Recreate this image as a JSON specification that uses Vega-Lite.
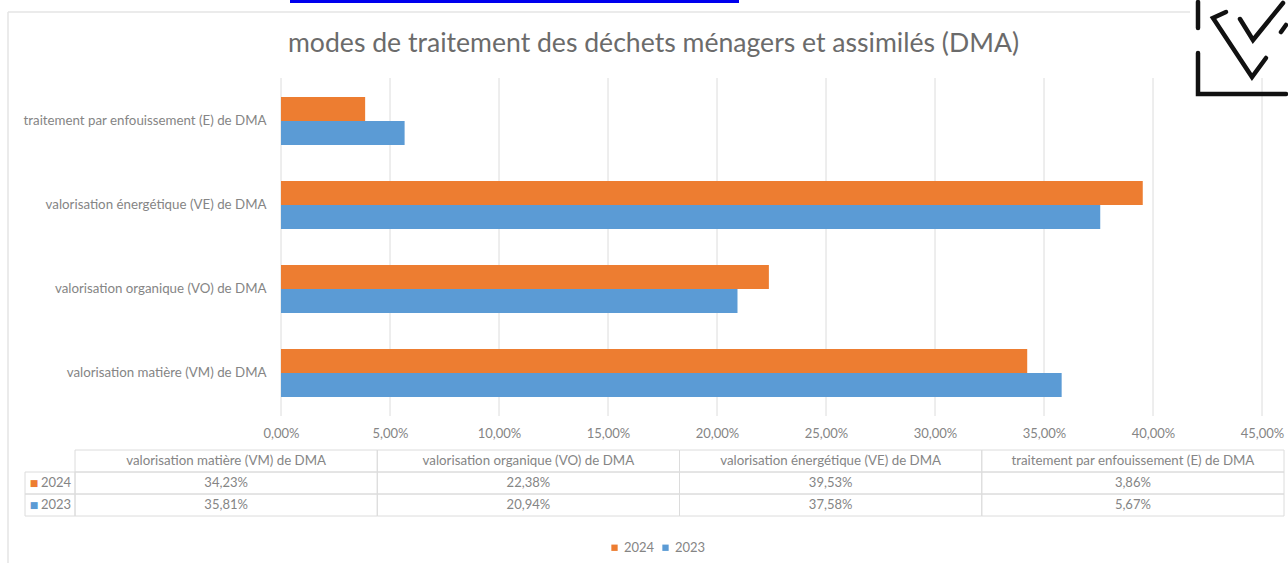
{
"$schema":"https://vega.github.io/schema/vega-lite/v6.json",
"width":1288,"height":563,"padding":{"top":-7,"left":0,"right":0,"bottom":0},
"autosize":{"type":"fit","contains":"padding"},
"background":"#ffffff",
"config":{"view":{"stroke":null},"font":"Lato"},
"title":{"text":"modes de traitement des déchets ménagers et assimilés (DMA)","anchor":"middle","frame":"group","font":"Lato","fontSize":26.6,"fontWeight":"normal","color":"#6b6b6b","dx":13,"offset":0,"dy":65},
"datasets":{
"mesures":[
{"categorie":"valorisation matière (VM) de DMA","annee":"2024","valeur":34.23},
{"categorie":"valorisation organique (VO) de DMA","annee":"2024","valeur":22.38},
{"categorie":"valorisation énergétique (VE) de DMA","annee":"2024","valeur":39.53},
{"categorie":"traitement par enfouissement (E) de DMA","annee":"2024","valeur":3.86},
{"categorie":"valorisation matière (VM) de DMA","annee":"2023","valeur":35.81},
{"categorie":"valorisation organique (VO) de DMA","annee":"2023","valeur":20.94},
{"categorie":"valorisation énergétique (VE) de DMA","annee":"2023","valeur":37.58},
{"categorie":"traitement par enfouissement (E) de DMA","annee":"2023","valeur":5.67}],
"colonnes":[
{"categorie":"valorisation matière (VM) de DMA"},
{"categorie":"valorisation organique (VO) de DMA"},
{"categorie":"valorisation énergétique (VE) de DMA"},
{"categorie":"traitement par enfouissement (E) de DMA"}],
"graduations":[{"t":0},{"t":5},{"t":10},{"t":15},{"t":20},{"t":25},{"t":30},{"t":35},{"t":40},{"t":45}],
"annees":[{"annee":"2024"},{"annee":"2023"}],
"icone":[
{"trait":"a","o":0,"u":3,"v":2},{"trait":"a","o":1,"u":3,"v":28},
{"trait":"b","o":0,"u":3,"v":53},{"trait":"b","o":1,"u":3,"v":94},{"trait":"b","o":2,"u":91,"v":94},
{"trait":"c","o":0,"u":31,"v":12},{"trait":"c","o":1,"u":18,"v":18},{"trait":"c","o":2,"u":57,"v":77},{"trait":"c","o":3,"u":71,"v":58},
{"trait":"d","o":0,"u":45,"v":19},{"trait":"d","o":1,"u":58,"v":40},{"trait":"d","o":2,"u":88,"v":3},
{"trait":"e","o":0,"u":86,"v":32},{"trait":"e","o":1,"u":91,"v":25}]
},
"resolve":{"scale":{"x":"independent","y":"independent","color":"independent"},"axis":{"x":"independent","y":"independent"}},
"layer":[
{"data":{"values":[{"a":0,"b":1}]},"mark":{"type":"rule","color":"#0000ee","strokeWidth":3},
 "encoding":{"x":{"field":"a","type":"quantitative","axis":null,"scale":{"domain":[0,1],"range":[290,739]}},"x2":{"field":"b"},
 "y":{"field":"a","type":"quantitative","axis":null,"scale":{"domain":[0,1],"range":[1.5,2]}}}},
{"data":{"values":[{"a":0,"b":1}]},"mark":{"type":"rule","color":"#e4e4e4","strokeWidth":1.5},
 "encoding":{"x":{"field":"a","type":"quantitative","axis":null,"scale":{"domain":[0,1],"range":[8,1190]}},"x2":{"field":"b"},
 "y":{"field":"a","type":"quantitative","axis":null,"scale":{"domain":[0,1],"range":[12,13]}}}},
{"data":{"values":[{"a":0,"b":1}]},"mark":{"type":"rule","color":"#e4e4e4","strokeWidth":1.5},
 "encoding":{"x":{"field":"a","type":"quantitative","axis":null,"scale":{"domain":[0,1],"range":[8,9]}},
 "y":{"field":"a","type":"quantitative","axis":null,"scale":{"domain":[0,1],"range":[12,563]}},"y2":{"field":"b"}}},
{"data":{"name":"graduations"},"mark":{"type":"rule","color":"#dcdcdc","strokeWidth":1},
 "encoding":{"x":{"field":"t","type":"quantitative","axis":null,"scale":{"domain":[0,45],"range":[281,1262]}},
 "y":{"datum":0,"type":"quantitative","axis":null,"scale":{"domain":[0,1],"range":[78,416]}},"y2":{"datum":1}}},
{"data":{"name":"mesures"},"mark":{"type":"bar"},
 "encoding":{
 "x":{"field":"valeur","type":"quantitative","title":null,"scale":{"domain":[0,45],"nice":false,"range":[281,1262]},
  "axis":{"orient":"bottom","offset":-147,"values":[0,5,10,15,20,25,30,35,40,45],"grid":false,"domain":false,"ticks":false,"labelFlush":false,"labelOverlap":false,"labelPadding":12,"labelFont":"Lato","labelFontSize":13,"labelColor":"#858585","labelExpr":"replace(format(datum.value,'.2f'),'.',',')+'%'"}},
 "y":{"field":"categorie","type":"nominal","title":null,"sort":["traitement par enfouissement (E) de DMA","valorisation énergétique (VE) de DMA","valorisation organique (VO) de DMA","valorisation matière (VM) de DMA"],
  "scale":{"range":[79,415],"paddingInner":0.4286,"paddingOuter":0.2143},
  "axis":{"orient":"left","offset":-281,"grid":false,"domain":false,"ticks":false,"labelPadding":15,"labelLimit":300,"labelFont":"Lato","labelFontSize":13.3,"labelColor":"#858585"}},
 "yOffset":{"field":"annee","type":"nominal","sort":["2024","2023"]},
 "color":{"field":"annee","type":"nominal","title":null,"scale":{"domain":["2024","2023"],"range":["#ED7D31","#5B9BD5"]},
  "legend":{"orient":"none","legendX":608,"legendY":541,"direction":"horizontal","symbolType":"square","symbolSize":40,"labelFont":"Lato","labelFontSize":13,"labelColor":"#858585","columnPadding":4,"labelOffset":3}}}},
{"data":{"name":"mesures"},"mark":{"type":"rect","fill":"#ffffff","fillOpacity":0,"stroke":"#dcdcdc","strokeWidth":1},
 "encoding":{"x":{"field":"categorie","type":"nominal","axis":null,"sort":null,"scale":{"type":"band","domain":["valorisation matière (VM) de DMA","valorisation organique (VO) de DMA","valorisation énergétique (VE) de DMA","traitement par enfouissement (E) de DMA"],"range":[75,1284],"padding":0}},
 "y":{"field":"annee","type":"nominal","axis":null,"scale":{"type":"band","domain":["entete","2024","2023"],"range":[450,516],"padding":0}}}},
{"data":{"name":"colonnes"},"mark":{"type":"rect","fill":"#ffffff","fillOpacity":0,"stroke":"#dcdcdc","strokeWidth":1},
 "encoding":{"x":{"field":"categorie","type":"nominal","axis":null,"sort":null,"scale":{"type":"band","domain":["valorisation matière (VM) de DMA","valorisation organique (VO) de DMA","valorisation énergétique (VE) de DMA","traitement par enfouissement (E) de DMA"],"range":[75,1284],"padding":0}},
 "y":{"datum":"entete","type":"nominal","axis":null,"scale":{"type":"band","domain":["entete","2024","2023"],"range":[450,516],"padding":0}}}},
{"data":{"name":"annees"},"mark":{"type":"rect","fill":"#ffffff","fillOpacity":0,"stroke":"#dcdcdc","strokeWidth":1},
 "encoding":{"x":{"datum":"cle","type":"nominal","axis":null,"scale":{"type":"band","domain":["cle"],"range":[25,75],"padding":0}},
 "y":{"field":"annee","type":"nominal","axis":null,"scale":{"type":"band","domain":["entete","2024","2023"],"range":[450,516],"padding":0}}}},
{"data":{"name":"colonnes"},"mark":{"type":"text","font":"Lato","fontSize":13.3,"color":"#858585"},
 "encoding":{"text":{"field":"categorie"},
 "x":{"field":"categorie","type":"nominal","axis":null,"sort":null,"scale":{"type":"band","domain":["valorisation matière (VM) de DMA","valorisation organique (VO) de DMA","valorisation énergétique (VE) de DMA","traitement par enfouissement (E) de DMA"],"range":[75,1284],"padding":0}},
 "y":{"datum":"entete","type":"nominal","axis":null,"scale":{"type":"band","domain":["entete","2024","2023"],"range":[450,516],"padding":0}}}},
{"data":{"name":"mesures"},"transform":[{"calculate":"replace(format(datum.valeur,'.2f'),'.',',')+'%'","as":"libelle"}],
 "mark":{"type":"text","font":"Lato","fontSize":13,"color":"#858585"},
 "encoding":{"text":{"field":"libelle"},
 "x":{"field":"categorie","type":"nominal","axis":null,"sort":null,"scale":{"type":"band","domain":["valorisation matière (VM) de DMA","valorisation organique (VO) de DMA","valorisation énergétique (VE) de DMA","traitement par enfouissement (E) de DMA"],"range":[75,1284],"padding":0}},
 "y":{"field":"annee","type":"nominal","axis":null,"scale":{"type":"band","domain":["entete","2024","2023"],"range":[450,516],"padding":0}}}},
{"data":{"name":"annees"},"mark":{"type":"text","font":"Lato","fontSize":13,"color":"#858585","dx":6},
 "encoding":{"text":{"field":"annee"},
 "x":{"datum":"cle","type":"nominal","axis":null,"scale":{"type":"band","domain":["cle"],"range":[25,75],"padding":0}},
 "y":{"field":"annee","type":"nominal","axis":null,"scale":{"type":"band","domain":["entete","2024","2023"],"range":[450,516],"padding":0}}}},
{"data":{"name":"annees"},"mark":{"type":"text","font":"DejaVu Sans","fontSize":9,"dx":-16,"text":"■"},
 "encoding":{
 "x":{"datum":"cle","type":"nominal","axis":null,"scale":{"type":"band","domain":["cle"],"range":[25,75],"padding":0}},
 "y":{"field":"annee","type":"nominal","axis":null,"scale":{"type":"band","domain":["entete","2024","2023"],"range":[450,516],"padding":0}},
 "color":{"field":"annee","type":"nominal","legend":null,"scale":{"domain":["2024","2023"],"range":["#ED7D31","#5B9BD5"]}}}},
{"data":{"name":"icone"},"mark":{"type":"line","color":"#111111","strokeWidth":4.5,"strokeCap":"round","strokeJoin":"miter"},
 "encoding":{
 "x":{"field":"u","type":"quantitative","axis":null,"scale":{"domain":[0,93],"range":[1195,1288]}},
 "y":{"field":"v","type":"quantitative","axis":null,"scale":{"domain":[0,95],"range":[0,95]}},
 "detail":{"field":"trait"},"order":{"field":"o"}}}
]
}
